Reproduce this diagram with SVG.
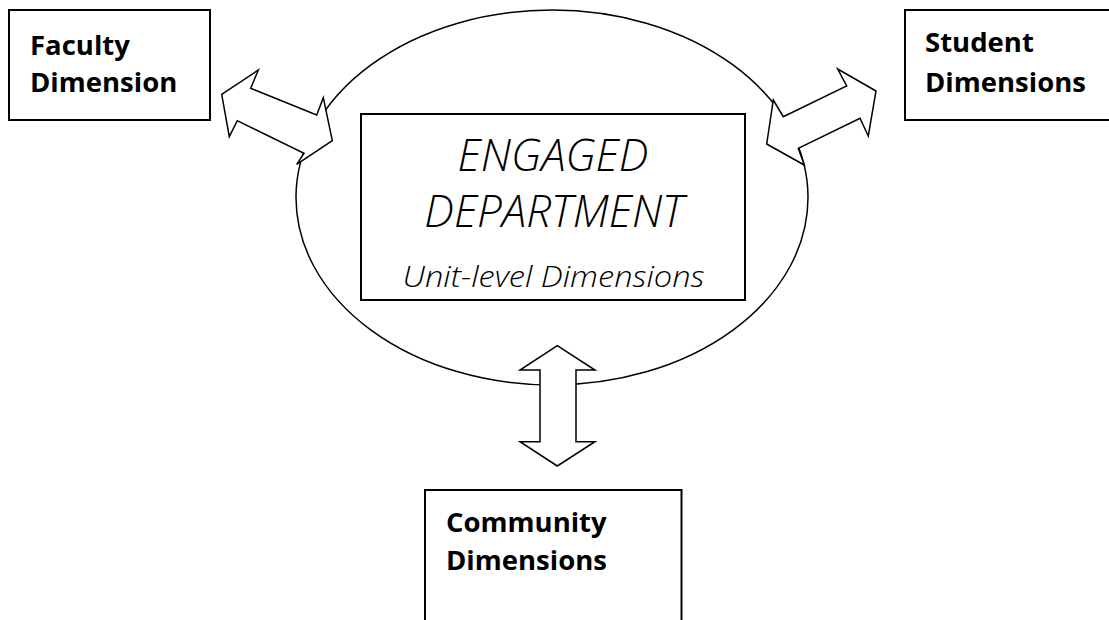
<svg xmlns="http://www.w3.org/2000/svg" width="1109" height="620" viewBox="0 0 1109 620">
<style>
.box{fill:#fff;stroke:#000;stroke-width:2}
.arr{fill:#fff;stroke:#000;stroke-width:1.5;stroke-linejoin:miter}
.lbl{font-family:"Open Sans","Noto Sans",sans-serif;font-weight:bold;font-size:27.5px;fill:#000}
.it{font-family:"Open Sans","Noto Sans",sans-serif;font-style:italic;font-weight:300;fill:#000;text-anchor:middle}
</style>
<rect width="1109" height="620" fill="#fff"/>
<g id="center">
<ellipse cx="552" cy="197.5" rx="256" ry="187.5" fill="#fff" stroke="#000" stroke-width="1.5"/>
<rect class="box" x="361" y="114" width="384" height="186" stroke-width="1.5"/>
<text class="it" x="553" y="171" font-size="44">ENGAGED</text>
<text class="it" x="554" y="227" font-size="44">DEPARTMENT</text>
<text class="it" x="553.5" y="287" font-size="29" textLength="302" lengthAdjust="spacingAndGlyphs">Unit-level Dimensions</text>
</g>
<g id="connectors">
<polygon class="arr" points="221.7,94.3 258.3,70 250.7,88.3 316.7,115 323.3,97.7 332.3,140.7 296.7,164.3 304,153.3 237.3,120.7 229.3,136.7"/>
<polygon class="arr" points="766.7,144 773.3,100 783.3,116.7 846.7,86 837.7,69 876,91 868.3,136 860,118.3 798.3,148.3 804.3,165"/>
<polygon class="arr" points="557.3,345.7 595,370 576,370 576,441.7 595,441.7 557.3,466 520,441.7 540,441.7 540,370 520,370"/>
</g>
<g id="faculty">
<rect class="box" x="9" y="10" width="201" height="110"/>
<text class="lbl" x="30" y="55">Faculty</text>
<text class="lbl" x="30" y="91.5">Dimension</text>
</g>
<g id="student">
<rect class="box" x="905" y="10" width="210" height="110"/>
<text class="lbl" x="925" y="52">Student</text>
<text class="lbl" x="925" y="91.5">Dimensions</text>
</g>
<g id="community">
<rect class="box" x="425" y="490" width="256.5" height="140"/>
<text class="lbl" x="446" y="531.5">Community</text>
<text class="lbl" x="446" y="570">Dimensions</text>
</g>
</svg>
